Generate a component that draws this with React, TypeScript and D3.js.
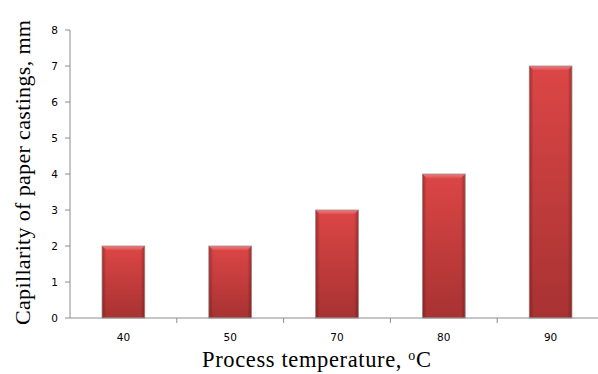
import React from "react";
import * as d3 from "d3";

const categories: string[] = ["40", "50", "70", "80", "90"];
const capillarity: number[] = [2, 2, 3, 4, 7];
const yTicks: number[] = [0, 1, 2, 3, 4, 5, 6, 7, 8];

const W = 598;
const H = 374;
const margin = { left: 70, top: 30, bottomY: 318, right: 604 };

export default function App() {
  const x = d3
    .scaleBand<string>()
    .domain(categories)
    .range([margin.left, margin.right])
    .paddingInner(0.6)
    .paddingOuter(0.3);
  const y = d3.scaleLinear().domain([0, 8]).range([margin.bottomY, margin.top]);
  const step = x.step();
  const bw = x.bandwidth();
  const bevel = 4;

  return (
    <svg
      width={W}
      height={H}
      style={{ position: "absolute", left: 0, top: 0, background: "#fff" }}
    >
      <defs>
        <linearGradient id="barV" x1="0" y1="0" x2="0" y2="1">
          <stop offset="0" stopColor="#dc4646" />
          <stop offset="1" stopColor="#a83232" />
        </linearGradient>
        <linearGradient id="barEdge" x1="0" y1="0" x2="1" y2="0">
          <stop offset="0" stopColor="#5a1010" stopOpacity="0.45" />
          <stop offset="0.1" stopColor="#5a1010" stopOpacity="0" />
          <stop offset="0.9" stopColor="#5a1010" stopOpacity="0" />
          <stop offset="1" stopColor="#5a1010" stopOpacity="0.45" />
        </linearGradient>
        <linearGradient id="barTop" x1="0" y1="0" x2="0" y2="1">
          <stop offset="0" stopColor="#f07a7a" />
          <stop offset="1" stopColor="#e05252" />
        </linearGradient>
      </defs>

      {/* bars */}
      {categories.map((c, i) => {
        const x0 = x(c)!;
        const y0 = y(capillarity[i]);
        const h = y(0) - y0;
        return (
          <g key={c}>
            <rect x={x0} y={y0} width={bw} height={h} fill="url(#barV)" />
            <rect x={x0} y={y0} width={bw} height={h} fill="url(#barEdge)" />
            <polygon
              points={`${x0},${y0} ${x0 + bw},${y0} ${x0 + bw - bevel},${y0 + bevel} ${x0 + bevel},${y0 + bevel}`}
              fill="url(#barTop)"
            />
            <rect
              x={x0}
              y={y0}
              width={bw}
              height={h}
              fill="none"
              stroke="#9a8a8a"
              strokeWidth={0.8}
            />
          </g>
        );
      })}

      {/* y axis */}
      <line x1={margin.left} x2={margin.left} y1={y(8)} y2={y(0)} stroke="#8c8c8c" strokeWidth={1} />
      {yTicks.map((t) => (
        <g key={t}>
          <line x1={margin.left - 5} x2={margin.left} y1={y(t)} y2={y(t)} stroke="#8c8c8c" />
          <text
            x={margin.left - 12}
            y={y(t)}
            dy="0.35em"
            textAnchor="end"
            fontFamily="DejaVu Sans, Verdana, sans-serif"
            fontSize={10.5}
            fill="#000"
          >
            {t}
          </text>
        </g>
      ))}

      {/* x axis */}
      <line x1={margin.left} x2={W} y1={y(0)} y2={y(0)} stroke="#8c8c8c" strokeWidth={1} />
      {categories.map((c, i) => (
        <g key={c}>
          {i > 0 && (
            <line
              x1={margin.left + step * i}
              x2={margin.left + step * i}
              y1={y(0)}
              y2={y(0) + 5}
              stroke="#8c8c8c"
            />
          )}
          <text
            x={x(c)! + bw / 2}
            y={337}
            dy="0.35em"
            textAnchor="middle"
            fontFamily="DejaVu Sans, Verdana, sans-serif"
            fontSize={10.5}
            fill="#000"
          >
            {c}
          </text>
        </g>
      ))}

      {/* axis titles */}
      <text
        x={202}
        y={367}
        textLength={229}
        lengthAdjust="spacing"
        fontFamily="Liberation Serif, Times New Roman, serif"
        fontSize={22.5}
        fill="#000"
      >
        Process temperature,{" "}
        <tspan fontSize={14} dy={-7}>o</tspan>
        <tspan dy={7}>C</tspan>
      </text>
      <text
        transform={`translate(30,325) rotate(-90)`}
        textLength={305}
        lengthAdjust="spacing"
        fontFamily="Liberation Serif, Times New Roman, serif"
        fontSize={22}
        fill="#000"
      >
        Capillarity of paper castings, mm
      </text>
    </svg>
  );
}
